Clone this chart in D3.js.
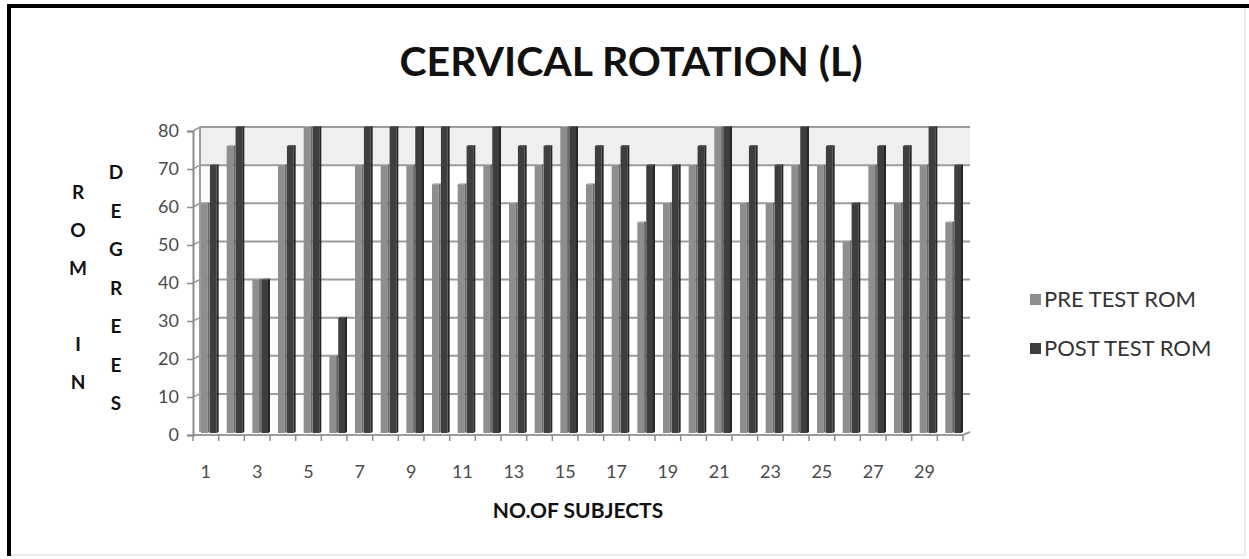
<!DOCTYPE html>
<html>
<head>
<meta charset="utf-8">
<script src="https://cdn.jsdelivr.net/npm/d3@7"></script>
<style>
  body { margin: 0; background: #fff; }
  text { font-family: Lato, "Open Sans", sans-serif; }
</style>
</head>
<body>
<svg id="chart" width="1249" height="559"></svg>
<script>
// chart data
var subjects = d3.range(1, 31);
var preTest  = [60, 75, 40, 70, 80, 20, 70, 70, 70, 65, 65, 70, 60, 70, 80,
                65, 70, 55, 60, 70, 80, 60, 60, 70, 70, 50, 70, 60, 70, 55];
var postTest = [70, 80, 40, 75, 80, 30, 80, 80, 80, 80, 75, 80, 75, 75, 80,
                75, 75, 70, 70, 75, 80, 75, 70, 80, 75, 60, 75, 75, 80, 70];
var seriesNames = ["PRE TEST ROM", "POST TEST ROM"];
var yTicks = [0, 10, 20, 30, 40, 50, 60, 70, 80];
var xLabels = subjects.filter(function(d) { return d % 2 == 1; });
var leftTitle1 = ["R", "O", "M", "", "I", "N"];
var leftTitle2 = ["D", "E", "G", "R", "E", "E", "S"];

var colors = { front: ["#8e8e8e", "#3e3e3e"], side: ["#6a6a6a", "#262626"], top: ["#b0b0b0", "#5a5a5a"] };

var svg = d3.select("#chart");

// frame
svg.append("rect").attr("x", 9).attr("y", 6).attr("width", 1236).attr("height", 549)
  .attr("fill", "#fff").attr("stroke", "#d8d8d8").attr("stroke-width", 1);
svg.append("path").attr("d", "M9,556 L9,6 L1249,6")
  .attr("fill", "none").attr("stroke", "#000").attr("stroke-width", 4);

// 3d offset of back wall
var dx = 7, dy = -4;

var x0 = d3.scaleBand().domain(subjects).range([193, 963]).padding(0);
var x1 = d3.scaleBand().domain([0, 1]).range([0, 18]).padding(0.02);
var yFront = d3.scaleLinear().domain([0, 80]).range([435, 131]);
var yBack = d3.scaleLinear().domain([0, 80]).range([432, 127]);

var g = svg.append("g");

// top band
g.append("rect")
  .attr("x", 193 + dx).attr("y", yBack(80))
  .attr("width", 963 - 193).attr("height", yBack(70) - yBack(80))
  .attr("fill", "#efefef");

// gridlines on back wall + side wall
yTicks.forEach(function(t) {
  if (t == 0) return;
  g.append("line")
    .attr("x1", 193 + dx).attr("x2", 963 + dx)
    .attr("y1", yBack(t)).attr("y2", yBack(t))
    .attr("stroke", "#9c9c9c").attr("stroke-width", 2);
  g.append("line")
    .attr("x1", 193).attr("x2", 193 + dx)
    .attr("y1", yFront(t)).attr("y2", yBack(t))
    .attr("stroke", "#9c9c9c").attr("stroke-width", 1.5);
});
// back wall left edge
g.append("line").attr("x1", 193 + dx).attr("x2", 193 + dx)
  .attr("y1", yBack(80)).attr("y2", yBack(0))
  .attr("stroke", "#9c9c9c").attr("stroke-width", 2);
// floor
g.append("path")
  .attr("d", "M193," + yFront(0) + " L963," + yFront(0) + " L" + (963 + dx) + "," + yBack(0))
  .attr("fill", "none").attr("stroke", "#9c9c9c").attr("stroke-width", 2);

// bars
var groups = g.selectAll(".subj")
  .data(subjects)
  .enter().append("g")
  .attr("class", "subj")
  .attr("transform", function(d) { return "translate(" + (x0(d) + (x0.bandwidth() - 18) / 2 + 4) + ",0)"; });

groups.each(function(d, i) {
  var gg = d3.select(this);
  [preTest[i], postTest[i]].forEach(function(v, s) {
    var bx = x1(s), bw = x1.bandwidth() - 2;
    var top = yBack(v), base = yBack(0) + 1;
    gg.append("rect")
      .attr("x", bx).attr("y", top).attr("width", bw).attr("height", base - top)
      .attr("fill", colors.front[s]);
    gg.append("path")
      .attr("d", "M" + (bx + bw) + "," + top + " L" + (bx + bw + 2) + "," + (top - 1) +
        " L" + (bx + bw + 2) + "," + (base - 1) + " L" + (bx + bw) + "," + base + "Z")
      .attr("fill", colors.side[s]);
    gg.append("path")
      .attr("d", "M" + bx + "," + top + " L" + (bx + 2) + "," + (top - 1) +
        " L" + (bx + bw + 2) + "," + (top - 1) + " L" + (bx + bw) + "," + top + "Z")
      .attr("fill", colors.top[s]);
  });
});

// y axis
var yAxis = d3.axisLeft(yFront).tickValues(yTicks).tickSize(6).tickPadding(8);
var ya = svg.append("g").attr("transform", "translate(193,0)").call(yAxis);
ya.select(".domain").attr("stroke", "#8c8c8c").attr("stroke-width", 2);
ya.selectAll(".tick line").attr("stroke", "#8c8c8c").attr("stroke-width", 1.5);
ya.selectAll(".tick text").attr("fill", "#4a4a4a").style("font-size", "18px").style("font-family", "Lato, sans-serif");

// x axis ticks at category boundaries
var xa = svg.append("g");
subjects.concat([31]).forEach(function(d, i) {
  var xx = 193 + x0.step() * i;
  xa.append("line").attr("x1", xx).attr("x2", xx)
    .attr("y1", yFront(0)).attr("y2", yFront(0) + 6)
    .attr("stroke", "#8c8c8c").attr("stroke-width", 1.5);
});
xa.selectAll("text.xl")
  .data(xLabels)
  .enter().append("text")
  .attr("class", "xl")
  .attr("x", function(d) { return x0(d) + x0.bandwidth() / 2; })
  .attr("y", 478)
  .attr("text-anchor", "middle")
  .attr("fill", "#4a4a4a")
  .style("font-size", "18px")
  .text(function(d) { return d; });

// titles
svg.append("text")
  .attr("x", 631).attr("y", 76)
  .attr("text-anchor", "middle")
  .style("font-size", "41px").style("font-weight", "bold")
  .attr("fill", "#111")
  .text("CERVICAL ROTATION (L)");

svg.append("text")
  .attr("x", 578).attr("y", 518)
  .attr("text-anchor", "middle")
  .style("font-size", "21px").style("font-weight", "bold")
  .attr("fill", "#111")
  .text("NO.OF SUBJECTS");

svg.selectAll("text.lt1")
  .data(leftTitle1)
  .enter().append("text")
  .attr("class", "lt1")
  .attr("x", 78).attr("y", function(d, i) { return 199 + i * 38; })
  .attr("text-anchor", "middle")
  .style("font-size", "19px").style("font-weight", "bold")
  .attr("fill", "#111")
  .text(function(d) { return d; });

svg.selectAll("text.lt2")
  .data(leftTitle2)
  .enter().append("text")
  .attr("class", "lt2")
  .attr("x", 116).attr("y", function(d, i) { return 179 + i * 38.5; })
  .attr("text-anchor", "middle")
  .style("font-size", "19px").style("font-weight", "bold")
  .attr("fill", "#111")
  .text(function(d) { return d; });

// legend
var legend = svg.append("g").attr("transform", "translate(1030,294)");
seriesNames.forEach(function(name, s) {
  var lg = legend.append("g").attr("transform", "translate(0," + (s * 49) + ")");
  lg.append("rect").attr("width", 11).attr("height", 11).attr("fill", colors.front[s]);
  lg.append("text").attr("x", 14).attr("y", 13)
    .attr("fill", "#333")
    .style("font-size", "22px")
    .text(name);
});
</script>
</body>
</html>
